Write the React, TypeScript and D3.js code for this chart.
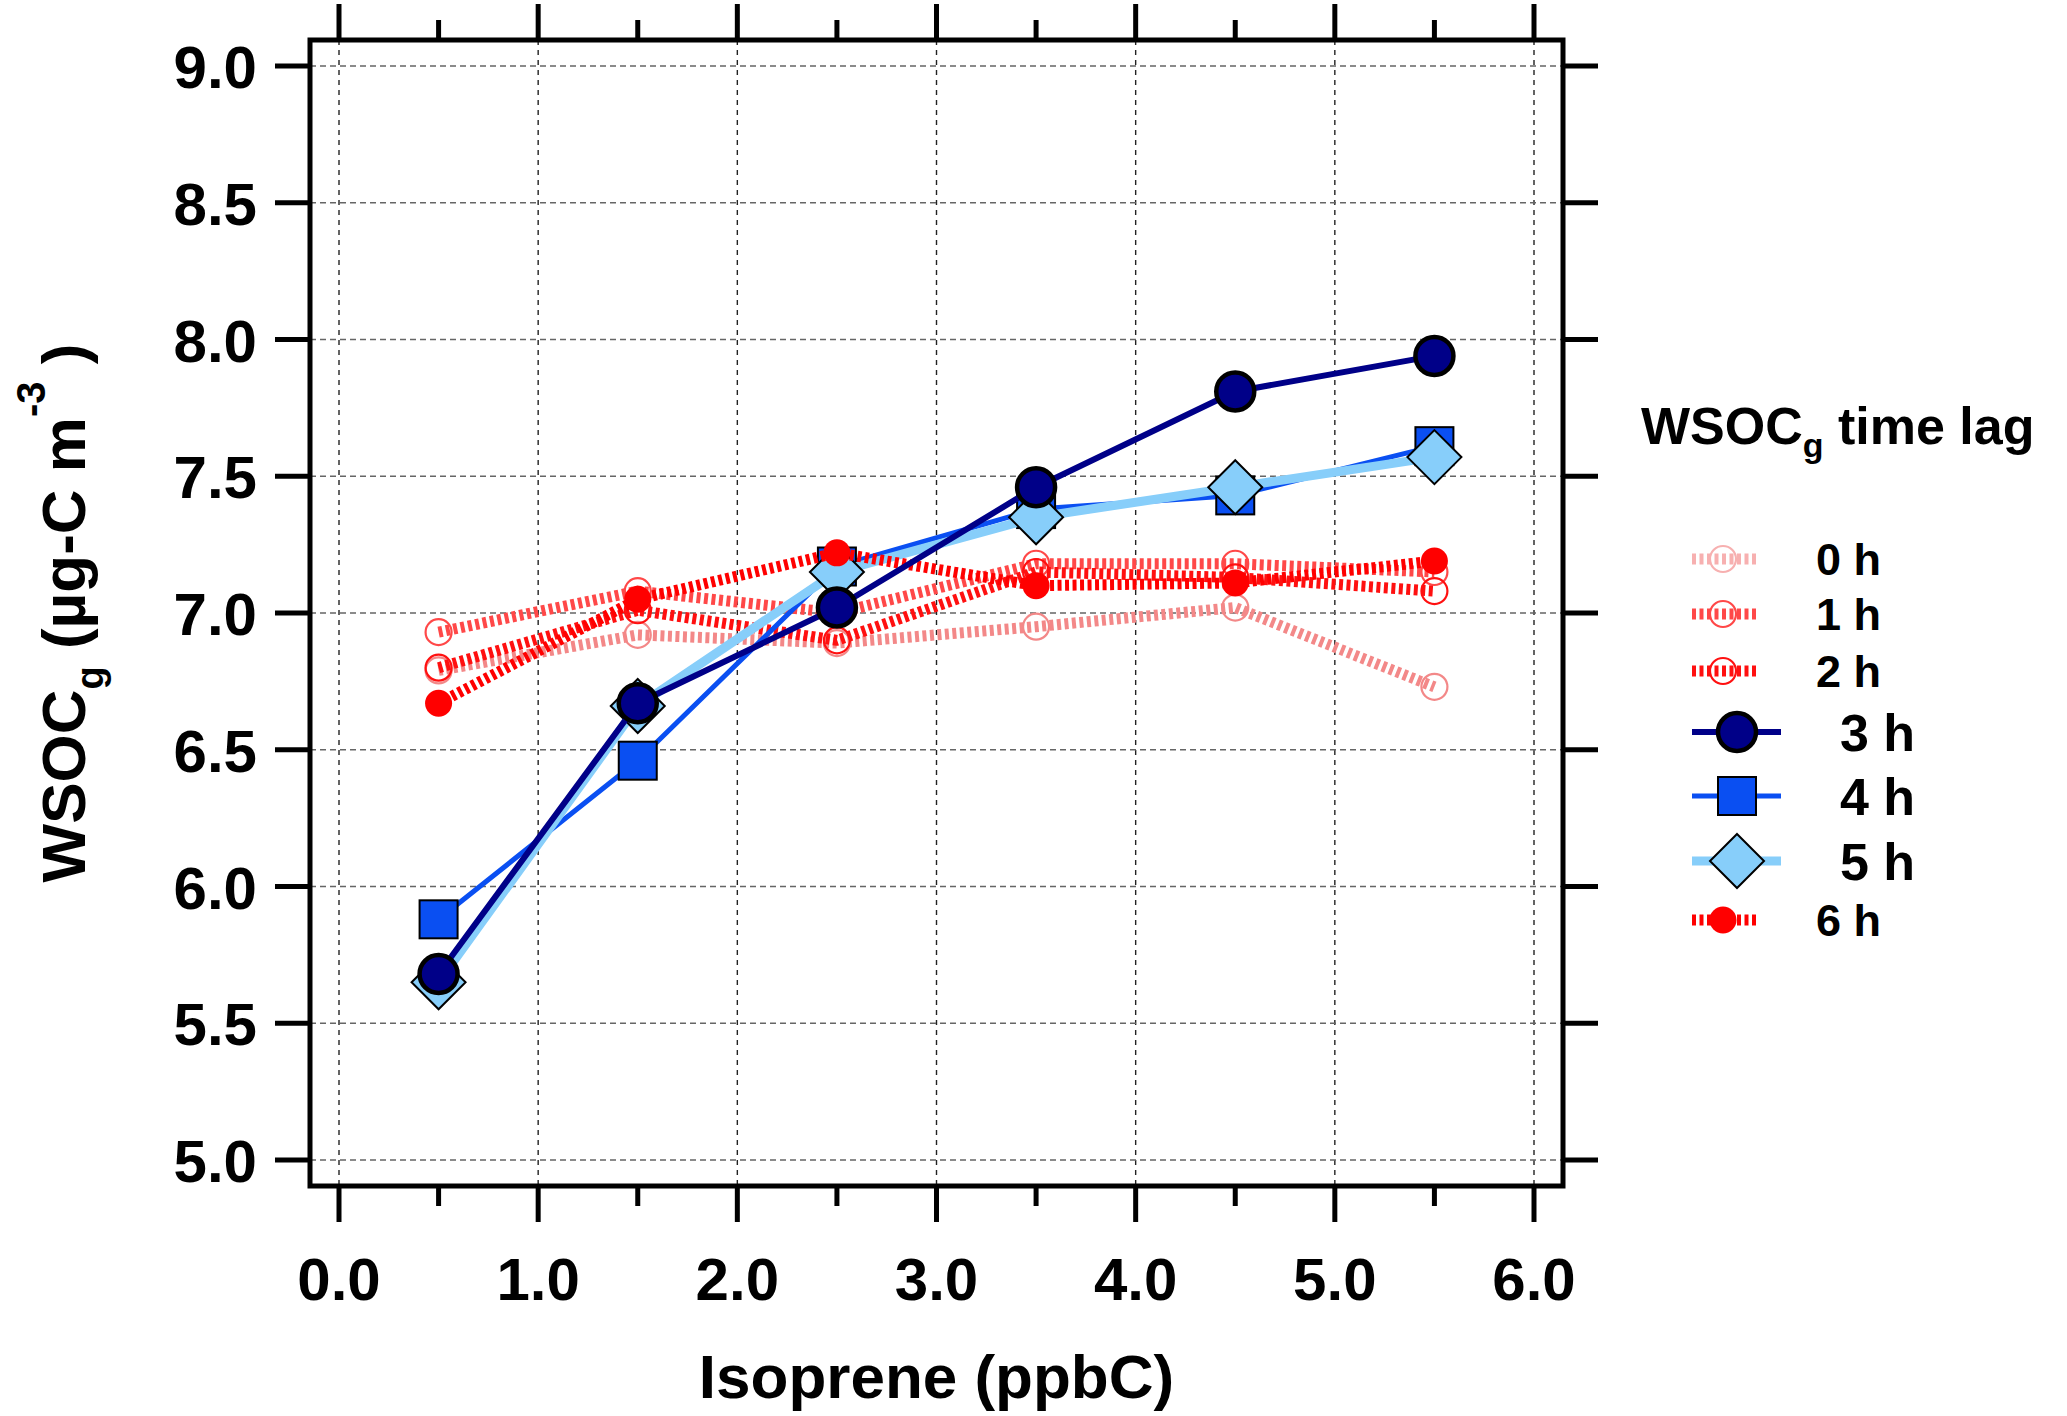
import { useEffect, useRef } from 'react';
import * as d3 from 'd3';

// isoprene bins (ppbC) and WSOCg means for each time lag
const isoprene = [0.5, 1.5, 2.5, 3.5, 4.5, 5.5];
const lag0h = [6.79, 6.92, 6.89, 6.95, 7.02, 6.73];
const lag1h = [6.93, 7.08, 7.0, 7.18, 7.18, 7.15];
const lag2h = [6.8, 7.01, 6.9, 7.15, 7.13, 7.08];
const lag3h = [5.68, 6.67, 7.02, 7.46, 7.81, 7.94];
const lag4h = [5.88, 6.46, 7.17, 7.38, 7.43, 7.61];
const lag5h = [5.65, 6.66, 7.15, 7.35, 7.46, 7.57];
const lag6h = [6.67, 7.05, 7.22, 7.1, 7.11, 7.19];

const xTicks = [0, 1, 2, 3, 4, 5, 6];
const xMinorTicks = [0.5, 1.5, 2.5, 3.5, 4.5, 5.5];
const yTicks = [5.0, 5.5, 6.0, 6.5, 7.0, 7.5, 8.0, 8.5, 9.0];

const legendOrder = ['0 h', '1 h', '2 h', '3 h', '4 h', '5 h', '6 h'];
const drawOrder = ['0 h', '1 h', '2 h', '4 h', '5 h', '6 h', '3 h'];

type Kind = 'open' | 'dot' | 'navy' | 'square' | 'diamond';

interface Series {
  name: string;
  values: number[];
  color: string;
  legendColor: string;
  kind: Kind;
  dashed: boolean;
  width: number;
}

const series: Series[] = [
  { name: '0 h', values: lag0h, color: '#f38888', legendColor: '#f7b0b0', kind: 'open', dashed: true, width: 11 },
  { name: '1 h', values: lag1h, color: '#ff4848', legendColor: '#ff4848', kind: 'open', dashed: true, width: 11 },
  { name: '2 h', values: lag2h, color: '#ff1010', legendColor: '#ff1010', kind: 'open', dashed: true, width: 11 },
  { name: '3 h', values: lag3h, color: '#000088', legendColor: '#000088', kind: 'navy', dashed: false, width: 6 },
  { name: '4 h', values: lag4h, color: '#0a4ff2', legendColor: '#0a4ff2', kind: 'square', dashed: false, width: 5 },
  { name: '5 h', values: lag5h, color: '#87cefa', legendColor: '#87cefa', kind: 'diamond', dashed: false, width: 9 },
  { name: '6 h', values: lag6h, color: '#ff0000', legendColor: '#ff0000', kind: 'dot', dashed: true, width: 11 },
];

const W = 2067;
const H = 1416;
const frame = { left: 310, right: 1563, top: 40, bottom: 1186 };
const FONT = '"Liberation Sans", Arial, sans-serif';

function drawMarker(
  g: d3.Selection<SVGGElement, unknown, null, undefined>,
  kind: Kind,
  cx: number,
  cy: number,
  color: string,
) {
  if (kind === 'open') {
    g.append('circle').attr('cx', cx).attr('cy', cy).attr('r', 13)
      .attr('fill', 'none').attr('stroke', color).attr('stroke-width', 2.2);
  } else if (kind === 'dot') {
    g.append('circle').attr('cx', cx).attr('cy', cy).attr('r', 13.5).attr('fill', color);
  } else if (kind === 'navy') {
    g.append('circle').attr('cx', cx).attr('cy', cy).attr('r', 19)
      .attr('fill', color).attr('stroke', '#000').attr('stroke-width', 4.5);
  } else if (kind === 'square') {
    g.append('rect').attr('x', cx - 19).attr('y', cy - 19).attr('width', 38).attr('height', 38)
      .attr('fill', color).attr('stroke', '#000').attr('stroke-width', 2);
  } else {
    const s = 27;
    g.append('path')
      .attr('d', `M${cx},${cy - s}L${cx + s},${cy}L${cx},${cy + s}L${cx - s},${cy}Z`)
      .attr('fill', color).attr('stroke', '#000').attr('stroke-width', 2);
  }
}

export default function App() {
  const svgRef = useRef<SVGSVGElement>(null);

  useEffect(() => {
    if (!svgRef.current) return;
    const svg = d3.select(svgRef.current);
    svg.selectAll('*').remove();

    const x = d3.scaleLinear().domain([0, 6]).range([339, 1534]);
    const y = d3.scaleLinear().domain([5, 9]).range([1160, 66]);

    svg.append('rect').attr('width', W).attr('height', H).attr('fill', '#fff');

    // grid
    const grid = svg.append('g');
    grid.selectAll('line.gx').data(xTicks).enter().append('line')
      .attr('x1', (d) => x(d)).attr('x2', (d) => x(d))
      .attr('y1', frame.top).attr('y2', frame.bottom)
      .attr('stroke', '#222').attr('stroke-width', 1.4).attr('stroke-dasharray', '5 5');
    grid.selectAll('line.gy').data(yTicks).enter().append('line')
      .attr('x1', frame.left).attr('x2', frame.right)
      .attr('y1', (d) => y(d)).attr('y2', (d) => y(d))
      .attr('stroke', '#666').attr('stroke-width', 1.4).attr('stroke-dasharray', '6 4');

    // series
    const line = d3.line<number>()
      .x((_, i) => x(isoprene[i]))
      .y((d) => y(d));

    drawOrder.forEach((name) => {
      const s = series.find((v) => v.name === name)!;
      const g = svg.append('g');
      g.append('path')
        .attr('d', line(s.values) as string)
        .attr('fill', 'none')
        .attr('stroke', s.color)
        .attr('stroke-width', s.width)
        .attr('stroke-linejoin', 'round')
        .attr('stroke-dasharray', s.dashed ? '4 3.5' : null);
      s.values.forEach((v, i) => drawMarker(g, s.kind, x(isoprene[i]), y(v), s.color));
    });

    // frame
    svg.append('rect')
      .attr('x', frame.left).attr('y', frame.top)
      .attr('width', frame.right - frame.left).attr('height', frame.bottom - frame.top)
      .attr('fill', 'none').attr('stroke', '#000').attr('stroke-width', 5);

    // ticks
    const ticks = svg.append('g').attr('stroke', '#000').attr('stroke-width', 5);
    yTicks.forEach((t) => {
      ticks.append('line').attr('x1', frame.left - 35).attr('x2', frame.left).attr('y1', y(t)).attr('y2', y(t));
      ticks.append('line').attr('x1', frame.right).attr('x2', frame.right + 35).attr('y1', y(t)).attr('y2', y(t));
    });
    xTicks.forEach((t) => {
      ticks.append('line').attr('x1', x(t)).attr('x2', x(t)).attr('y1', frame.bottom).attr('y2', frame.bottom + 36);
      ticks.append('line').attr('x1', x(t)).attr('x2', x(t)).attr('y1', frame.top).attr('y2', frame.top - 36);
    });
    xMinorTicks.forEach((t) => {
      ticks.append('line').attr('x1', x(t)).attr('x2', x(t)).attr('y1', frame.bottom).attr('y2', frame.bottom + 20);
      ticks.append('line').attr('x1', x(t)).attr('x2', x(t)).attr('y1', frame.top).attr('y2', frame.top - 20);
    });

    // tick labels
    svg.append('g').selectAll('text').data(yTicks).enter().append('text')
      .attr('x', 257).attr('y', (d) => y(d) + 22)
      .attr('text-anchor', 'end')
      .style('font-family', FONT).style('font-size', '60px').style('font-weight', '700')
      .text((d) => d.toFixed(1));
    svg.append('g').selectAll('text').data(xTicks).enter().append('text')
      .attr('x', (d) => x(d)).attr('y', 1300)
      .attr('text-anchor', 'middle')
      .style('font-family', FONT).style('font-size', '60px').style('font-weight', '700')
      .text((d) => d.toFixed(1));

    // axis titles
    svg.append('text')
      .attr('x', (frame.left + frame.right) / 2).attr('y', 1398)
      .attr('text-anchor', 'middle')
      .style('font-family', FONT).style('font-size', '62px').style('font-weight', '700')
      .text('Isoprene (ppbC)');

    const yt = svg.append('text')
      .attr('transform', `translate(85, ${(frame.top + frame.bottom) / 2}) rotate(-90)`)
      .attr('text-anchor', 'middle')
      .style('font-family', FONT).style('font-size', '62px').style('font-weight', '700');
    yt.append('tspan').text('WSOC');
    yt.append('tspan').attr('dy', 18).style('font-size', '38px').text('g');
    yt.append('tspan').attr('dy', -18).text(' (µg-C m');
    yt.append('tspan').attr('dy', -40).style('font-size', '40px').text('-3');
    yt.append('tspan').attr('dy', 40).text(' )');

    // legend
    const lt = svg.append('text')
      .attr('x', 1641).attr('y', 444)
      .style('font-family', FONT).style('font-size', '52px').style('font-weight', '700');
    lt.append('tspan').text('WSOC');
    lt.append('tspan').attr('dy', 13).style('font-size', '34px').text('g');
    lt.append('tspan').attr('dy', -13).text(' time lag');

    const rowY = [559, 614, 671, 732, 796, 861, 920];
    legendOrder.forEach((name, i) => {
      const s = series.find((v) => v.name === name)!;
      const red = s.dashed;
      const g = svg.append('g');
      const cy = rowY[i];
      const x1 = 1692;
      const x2 = red ? 1756 : 1781;
      const mx = red ? 1723 : 1737;
      g.append('line').attr('x1', x1).attr('x2', x2).attr('y1', cy).attr('y2', cy)
        .attr('stroke', s.legendColor).attr('stroke-width', red ? 11 : s.width)
        .attr('stroke-dasharray', red ? '4 3.5' : null);
      drawMarker(g, s.kind, mx, cy, s.legendColor);
      const fs = red ? 45 : 52;
      g.append('text')
        .attr('x', red ? 1816 : 1840).attr('y', cy + fs * 0.36)
        .style('font-family', FONT).style('font-size', `${fs}px`).style('font-weight', '700')
        .text(name);
    });
  }, []);

  return (
    <svg
      ref={svgRef}
      width={W}
      height={H}
      style={{ position: 'absolute', left: 0, top: 0 }}
    />
  );
}
